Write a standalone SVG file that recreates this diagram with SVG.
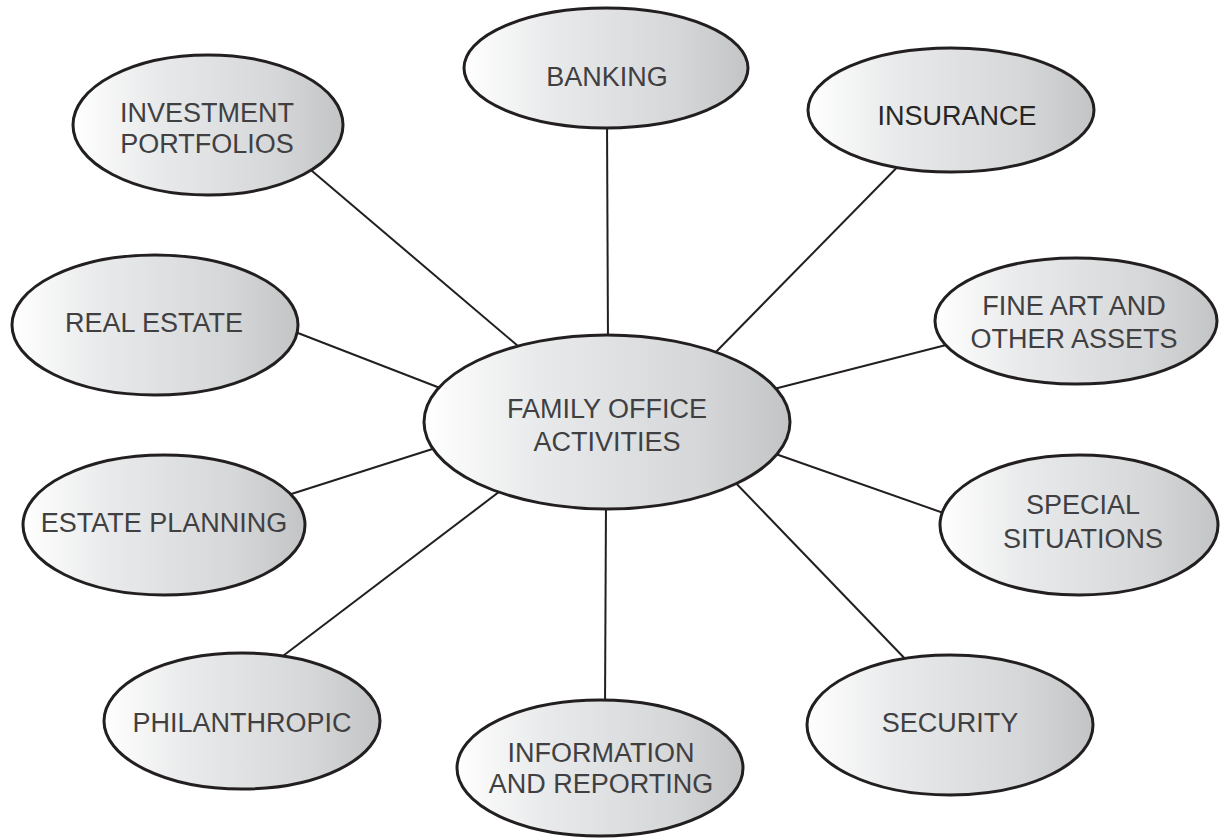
<svg xmlns="http://www.w3.org/2000/svg" width="1221" height="840" viewBox="0 0 1221 840">
<defs>
<linearGradient id="g" x1="0" y1="0" x2="1" y2="0">
<stop offset="0" stop-color="#ffffff"/>
<stop offset="0.3" stop-color="#e9eaeb"/>
<stop offset="0.75" stop-color="#d6d7d9"/>
<stop offset="1" stop-color="#c3c4c6"/>
</linearGradient>
<style>
.n{fill:url(#g);stroke:#231f20;stroke-width:3}
.c line{stroke:#231f20;stroke-width:2}
text{font-family:"Liberation Sans",Arial,sans-serif;font-size:27px;fill:#404042;text-anchor:middle}
</style>
</defs>
<rect width="1221" height="840" fill="#ffffff"/>
<g class="c" id="connectors">
<line x1="607" y1="120" x2="608" y2="345"/>
<line x1="305" y1="165" x2="525" y2="352"/>
<line x1="920" y1="144" x2="710" y2="358"/>
<line x1="285" y1="328" x2="440" y2="388"/>
<line x1="950" y1="344" x2="770" y2="390"/>
<line x1="285" y1="496" x2="445" y2="445"/>
<line x1="952" y1="516" x2="770" y2="452"/>
<line x1="275" y1="662" x2="520" y2="476"/>
<line x1="605" y1="710" x2="606" y2="500"/>
<line x1="912" y1="666" x2="730" y2="477"/>
</g>
<g id="center"><ellipse class="n" cx="607" cy="422" rx="183" ry="87"/><text x="607" y="418">FAMILY OFFICE</text><text x="607" y="451">ACTIVITIES</text></g>
<g id="banking"><ellipse class="n" cx="606" cy="68" rx="142" ry="60"/><text x="607" y="86">BANKING</text></g>
<g id="insurance"><ellipse class="n" cx="951" cy="110" rx="143" ry="62"/><text x="957" y="125" style="fill:#262626">INSURANCE</text></g>
<g id="investment"><ellipse class="n" cx="208" cy="125" rx="135" ry="70"/><text x="207" y="122">INVESTMENT</text><text x="207" y="153">PORTFOLIOS</text></g>
<g id="realestate"><ellipse class="n" cx="155" cy="325" rx="143" ry="70"/><text x="154" y="332">REAL ESTATE</text></g>
<g id="fineart"><ellipse class="n" cx="1076" cy="321" rx="141" ry="63"/><text x="1074" y="315">FINE ART AND</text><text x="1074" y="348">OTHER ASSETS</text></g>
<g id="estateplanning"><ellipse class="n" cx="164" cy="525" rx="141" ry="70"/><text x="164" y="532">ESTATE PLANNING</text></g>
<g id="special"><ellipse class="n" cx="1079" cy="525" rx="139" ry="70"/><text x="1083" y="514">SPECIAL</text><text x="1083" y="548">SITUATIONS</text></g>
<g id="philanthropic"><ellipse class="n" cx="242" cy="721" rx="138" ry="68"/><text x="242" y="732">PHILANTHROPIC</text></g>
<g id="information"><ellipse class="n" cx="600" cy="768" rx="143" ry="68"/><text x="601" y="762">INFORMATION</text><text x="601" y="793">AND REPORTING</text></g>
<g id="security"><ellipse class="n" cx="950" cy="725" rx="143" ry="70"/><text x="950" y="732">SECURITY</text></g>
</svg>
